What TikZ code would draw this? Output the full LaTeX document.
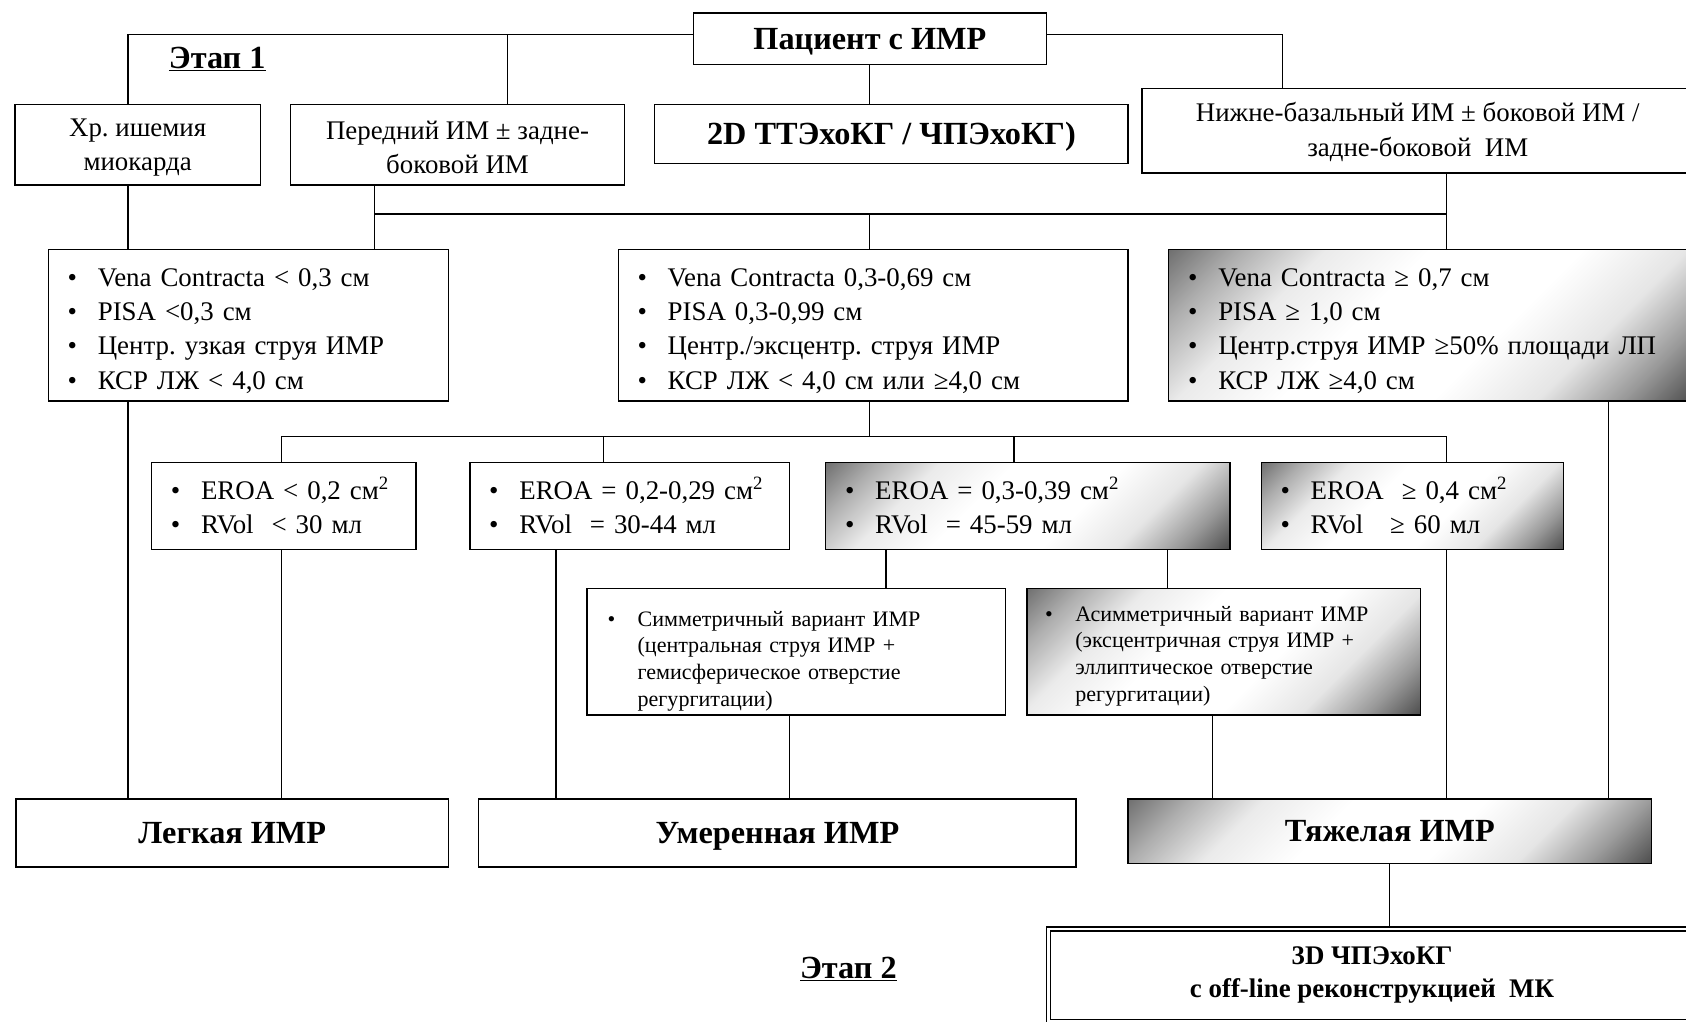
\documentclass[tikz,border=0pt]{standalone}
\usepackage{fontspec}
\setmainfont{Liberation Serif}
\usepackage{tikz}
\usetikzlibrary{calc,positioning}
\frenchspacing

\newcommand\sizebig{\fontsize{30}{34}\selectfont}
\newcommand\sizemid{\fontsize{25}{32}\selectfont}
\newcommand\sizetd{\fontsize{25}{31}\selectfont}
\newcommand\sizesmall{\fontsize{20.5}{25}\selectfont}
\newcommand\itm[1]{\makebox[28pt][l]{\textbullet}#1}
\newcommand\padtop[1]{\rule{0pt}{#1}}

% grey corners, white middle
\pgfdeclareverticalshading{cornerfade}{100bp}{color(0bp)=(black!72); color(14bp)=(black!72); color(22bp)=(black!40); color(31bp)=(black!10); color(42bp)=(white); color(58bp)=(white); color(69bp)=(black!8); color(78bp)=(black!32); color(86bp)=(black!58); color(100bp)=(black!58)}

\tikzset{
  box/.style={draw, line width=1.2pt, inner sep=0pt, align=center},
  listbox/.style={draw, line width=1.2pt, inner xsep=18pt, inner ysep=0pt, align=left},
  grad/.style={shade, shading=cornerfade, shading angle=45},
  title/.style={font=\sizebig\bfseries, text height=20pt, text depth=0pt},
  level/.style={box, title, line width=1.6pt},
}

\begin{document}
\begin{tikzpicture}[x=1pt, y=-1pt]
		\useasboundingbox (0,0) rectangle (1568,950);
		\fill[white] (0,0) rectangle (1568,950);
		% stage 1: top row
		\node[box, title, minimum width=328pt, minimum height=48pt] (pac) at (809,36) {Пациент с ИМР};
		\node[font=\sizebig\bfseries] (etap1) at (202,55) {\underline{Этап 1}};
		\node[box, minimum width=228pt, minimum height=75pt, font=\sizemid] (hr) at (128,134.5) {\padtop{22pt}Хр. ишемия\\миокарда};
		\node[box, minimum width=311pt, minimum height=75pt, font=\sizemid] (pered) at (425.5,134.5) {\padtop{22pt}Передний ИМ ± задне-\\боковой ИМ};
		\node[box, title, minimum width=440pt, minimum height=55pt] (echo) at (829,124.5) {2D ТТЭхоКГ / ЧПЭхоКГ)};
		\node[box, minimum width=513pt, minimum height=79pt, font=\sizemid] (nizh) at (1318.5,121.5) {\padtop{20pt}Нижне-базальный ИМ ± боковой ИМ /\\задне-боковой\ \ ИМ};
		% criteria
		\node[listbox, text width=336pt, minimum height=141pt, font=\sizemid] (crit1) at (231,302.5) {\padtop{27pt}\itm{Vena Contracta < 0,3 см}\\\itm{PISA <0,3 см}\\\itm{Центр. узкая струя ИМР}\\\itm{КСР ЛЖ < 4,0 см}};
		\node[listbox, text width=438pt, minimum height=141pt, font=\sizemid] (crit2) at (812,302.5) {\padtop{27pt}\itm{Vena Contracta 0,3-0,69 см}\\\itm{PISA 0,3-0,99 см}\\\itm{Центр./эксцентр. струя ИМР}\\\itm{КСР ЛЖ < 4,0 см или ≥4,0 см}};
		\node[listbox, grad, text width=452pt, minimum height=141pt, font=\sizemid] (crit3) at (1331,302.5) {\padtop{27pt}\itm{Vena Contracta ≥ 0,7 см}\\\itm{PISA ≥ 1,0 см}\\\itm{Центр.струя ИМР ≥50\% площади ЛП}\\\itm{КСР ЛЖ ≥4,0 см}};
		% EROA / RVol
		\node[listbox, text width=210pt, minimum height=81pt, font=\sizemid] (eroa1) at (264,470.5) {\itm{EROA < 0,2 см\textsuperscript{2}}\\\itm{RVol\ \ < 30 мл}};
		\node[listbox, text width=261pt, minimum height=81pt, font=\sizemid] (eroa2) at (585.5,470.5) {\itm{EROA = 0,2-0,29 см\textsuperscript{2}}\\\itm{RVol\ \ = 30-44 мл}};
		\node[listbox, grad, text width=340pt, minimum height=81pt, font=\sizemid] (eroa3) at (956,470.5) {\itm{EROA = 0,3-0,39 см\textsuperscript{2}}\\\itm{RVol\ \ = 45-59 мл}};
		\node[listbox, grad, text width=245pt, minimum height=81pt, font=\sizemid] (eroa4) at (1313.5,470.5) {\itm{EROA\ \ ≥ 0,4 см\textsuperscript{2}}\\\itm{RVol\ \ \ ≥ 60 мл}};
		% jet variants
		\node[listbox, inner xsep=19pt, text width=351pt, minimum height=118pt, font=\sizesmall] (sym) at (740.5,606) {\padtop{32pt}\itm{Симметричный вариант ИМР}\\\hspace*{28pt}(центральная струя ИМР +\\\hspace*{28pt}гемисферическое отверстие\\\hspace*{28pt}регургитации)};
		\node[listbox, grad, inner xsep=17pt, text width=332pt, minimum height=118pt, font=\sizesmall] (asym) at (1138,606) {\padtop{22.5pt}\itm{Асимметричный вариант ИМР}\\\hspace*{28pt}(эксцентричная струя ИМР +\\\hspace*{28pt}эллиптическое отверстие\\\hspace*{28pt}регургитации)};
		% grades
		\node[level, minimum width=402pt, minimum height=63pt] (legk) at (216,774.5) {Легкая ИМР};
		\node[level, minimum width=556pt, minimum height=63pt] (umer) at (723,774.5) {Умеренная ИМР};
		\node[level, grad, minimum width=487pt, minimum height=60pt] (tyazh) at (1292.5,773) {Тяжелая ИМР};
		% stage 2
		\node[box, double, double distance=2.5pt, minimum width=602pt, minimum height=86pt, font=\sizetd\bfseries] (td) at (1276,907) {3D ЧПЭхоКГ\\с off-line реконструкцией\ \ МК};
		\node[font=\sizebig\bfseries] (etap2) at (789,901) {\underline{Этап 2}};
		% bends and drop lines
		\coordinate (xa) at (119,32);
		\coordinate (xb) at (472,32);
		\coordinate (xc) at (1193,32);
		\coordinate (xd) at (348,199);
		\coordinate (xe) at (1345,199);
		\coordinate (xf) at (262,406);
		\coordinate (xg) at (1345,406);
		\coordinate (xh) at (561,406);
		\coordinate (xi) at (943,406);
		\coordinate (xj) at (517,0);
		\coordinate (xk) at (824,0);
		\coordinate (xl) at (1086,0);
		\coordinate (xm) at (1496,0);
		\coordinate (xn) at (734,0);
		\coordinate (xo) at (1128,0);
		\begin{scope}[line width=1.1pt]
		\draw (xa |- hr.north) -- (xa) -- (pac.west |- xa);
		\draw (xb) -- (xb |- pered.north);
		\draw (pac.east |- xc) -- (xc) -- (xc |- nizh.north);
		\draw (pac.south) -- (pac.south |- echo.north);
		\draw (xa |- hr.south) -- (xa |- crit1.north);
		\draw (xa |- crit1.south) -- (xa |- legk.north);
		\draw (xd |- pered.south) -- (xd) -- (xe);
		\draw (xd) -- (xd |- crit1.north);
		\draw (xe |- nizh.south) -- (xe |- crit3.north);
		\draw (pac.south |- xd) -- (pac.south |- crit2.north);
		\draw (pac.south |- crit2.south) -- (pac.south |- xf);
		\draw (xf |- eroa1.north) -- (xf) -- (xg) -- (xg |- eroa4.north);
		\draw (xh) -- (xh |- eroa2.north);
		\draw (xi) -- (xi |- eroa3.north);
		\draw (xf |- eroa1.south) -- (xf |- legk.north);
		\draw (xj |- eroa2.south) -- (xj |- umer.north);
		\draw (xk |- eroa3.south) -- (xk |- sym.north);
		\draw (xl |- eroa3.south) -- (xl |- asym.north);
		\draw (xg |- eroa4.south) -- (xg |- tyazh.north);
		\draw (xm |- crit3.south) -- (xm |- tyazh.north);
		\draw (xn |- sym.south) -- (xn |- umer.north);
		\draw (xo |- asym.south) -- (xo |- tyazh.north);
		\draw (tyazh.south) -- (tyazh.south |- td.north);
		\end{scope}
\end{tikzpicture}
\end{document}
